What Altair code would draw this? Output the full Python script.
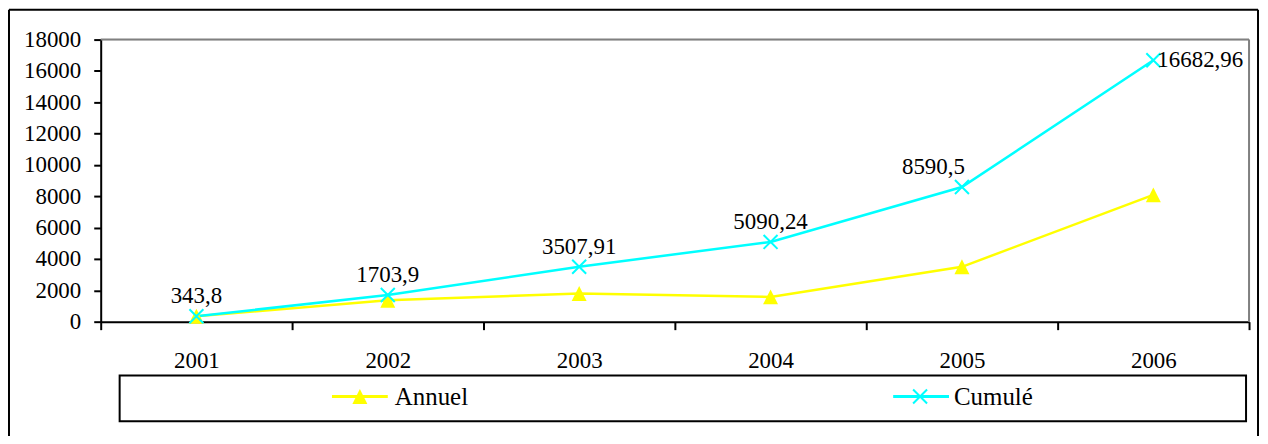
import altair as alt
import pandas as pd

years = ["2001", "2002", "2003", "2004", "2005", "2006"]
annuel = [343.8, 1360.1, 1804.01, 1582.33, 3500.26, 8092.46]
cumule = [343.8, 1703.9, 3507.91, 5090.24, 8590.5, 16682.96]
cumule_labels = ["343,8", "1703,9", "3507,91", "5090,24", "8590,5", "16682,96"]
series = ["Annuel", "Cumulé"]
colors = ["#FFFF00", "#00FFFF"]
y_ticks = list(range(0, 18001, 2000))

FONT = "'Liberation Serif', 'Times New Roman', 'DejaVu Serif', serif"
TRI = "M0,-1L1,1L-1,1Z"
XMARK = "M-1,-1L1,1M-1,1L1,-1"

long_df = pd.DataFrame({
    "year": years * 2,
    "value": annuel + cumule,
    "series": [series[0]] * len(years) + [series[1]] * len(years),
})
lab_df = pd.DataFrame({"year": years, "value": cumule, "label": cumule_labels})

x_enc = alt.X(
    "year:N", sort=years, bandPosition=0.5,
    scale=alt.Scale(type="band", paddingInner=0, paddingOuter=0),
    axis=alt.Axis(title=None, labelAngle=0, tickBand="extent", tickSize=8, tickWidth=2,
                  tickColor="black", domainColor="black", domainWidth=2, labelPadding=20,
                  labelFontSize=23, labelFont=FONT, labelColor="black", grid=False),
)
y_enc = alt.Y(
    "value:Q",
    scale=alt.Scale(domain=[0, 18000], nice=False),
    axis=alt.Axis(title=None, values=y_ticks, format="d", grid=False, tickSize=7, tickWidth=2,
                  tickColor="black", domainColor="black", domainWidth=2, labelPadding=13,
                  labelFontSize=23, labelFont=FONT, labelColor="black"),
)
color_enc = alt.Color("series:N", scale=alt.Scale(domain=series, range=colors), legend=None)

one = pd.DataFrame({"k": [0]})
deco = alt.Chart(one)

# plot-area frame (gray top and right edges)
frame_t = deco.mark_rule(color="#808080", strokeWidth=2).encode(
    x=alt.value(0), x2=alt.value(1152), y=alt.value(0))
frame_r = deco.mark_rule(color="#808080", strokeWidth=2).encode(
    x=alt.value(1152), y=alt.value(0), y2=alt.value(283))

base = alt.Chart(long_df)
lines = base.mark_line(strokeWidth=2.5, interpolate="linear").encode(x=x_enc, y=y_enc, color=color_enc)
tri_pts = base.transform_filter(alt.datum.series == series[0]).mark_point(
    shape=TRI, filled=True, fill=colors[0], size=225, opacity=1, strokeWidth=0
).encode(x=x_enc, y=y_enc)
x_pts = base.transform_filter(alt.datum.series == series[1]).mark_point(
    shape=XMARK, filled=False, stroke=colors[1], strokeWidth=2, size=196, opacity=1
).encode(x=x_enc, y=y_enc)

lab = alt.Chart(lab_df)
txt_kw = dict(font=FONT, fontSize=23, color="black")
labels_c = lab.transform_filter(alt.FieldOneOfPredicate(field="year", oneOf=years[:4])).mark_text(
    align="center", baseline="alphabetic", dy=-13, **txt_kw
).encode(x=x_enc, y=y_enc, text="label:N")
labels_r = lab.transform_filter(alt.datum.year == years[4]).mark_text(
    align="right", baseline="alphabetic", dx=3, dy=-13, **txt_kw
).encode(x=x_enc, y=y_enc, text="label:N")
labels_l = lab.transform_filter(alt.datum.year == years[5]).mark_text(
    align="left", baseline="middle", dx=4, **txt_kw
).encode(x=x_enc, y=y_enc, text="label:N")

legend_box = deco.mark_rect(fill="white", stroke="black", strokeWidth=2).encode(
    x=alt.value(19), x2=alt.value(1149), y=alt.value(337), y2=alt.value(383))
leg_line1 = deco.mark_rule(color=colors[0], strokeWidth=3).encode(
    x=alt.value(232), x2=alt.value(288), y=alt.value(358))
leg_pt1 = deco.mark_point(shape=TRI, filled=True, fill=colors[0], size=225, opacity=1, strokeWidth=0).encode(
    x=alt.value(260), y=alt.value(358))
leg_txt1 = deco.mark_text(align="left", baseline="middle", font=FONT, fontSize=25, color="black").encode(
    x=alt.value(295), y=alt.value(359), text=alt.value(series[0]))
leg_line2 = deco.mark_rule(color=colors[1], strokeWidth=3).encode(
    x=alt.value(795), x2=alt.value(851), y=alt.value(358))
leg_pt2 = deco.mark_point(shape=XMARK, filled=False, stroke=colors[1], strokeWidth=2, size=196, opacity=1).encode(
    x=alt.value(822), y=alt.value(358))
leg_txt2 = deco.mark_text(align="left", baseline="middle", font=FONT, fontSize=25, color="black").encode(
    x=alt.value(856), y=alt.value(359), text=alt.value(series[1]))

border_l = deco.mark_rule(color="black", strokeWidth=2).encode(
    x=alt.value(-92), y=alt.value(-30), y2=alt.value(420))
border_t = deco.mark_rule(color="black", strokeWidth=2).encode(
    x=alt.value(-92), x2=alt.value(1161), y=alt.value(-30))
border_r = deco.mark_rule(color="black", strokeWidth=2).encode(
    x=alt.value(1161), y=alt.value(-30), y2=alt.value(420))

chart = alt.layer(
    frame_t, frame_r,
    lines, tri_pts, x_pts, labels_c, labels_r, labels_l,
    legend_box, leg_line1, leg_pt1, leg_txt1, leg_line2, leg_pt2, leg_txt2,
    border_l, border_t, border_r,
).properties(
    width=1152, height=283,
    autosize=alt.AutoSizeParams(type="none"),
    padding={"left": 93, "top": 31, "right": 11, "bottom": 114},
).configure_view(
    fill="#C0C0C0", stroke="#808080", strokeWidth=2
).configure(background="white", font=FONT)

chart.save("out.html", embed_options={"renderer": "svg", "actions": False})
